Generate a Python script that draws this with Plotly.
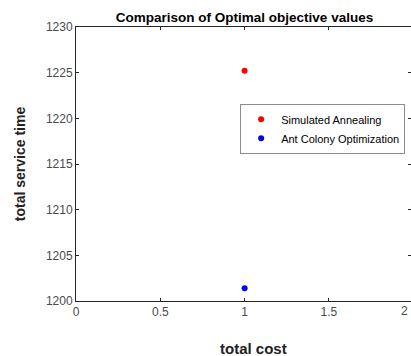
import plotly.graph_objects as go

# Data
series_names = ["Simulated Annealing", "Ant Colony Optimization"]
series_colors = ["#ff0000", "#0000ff"]
total_cost = [1, 1]
total_service_time = [1225.2, 1201.4]

x_tickvals = [0, 0.5, 1, 1.5, 2]
x_ticktext = ["0", "0.5", "1", "1.5", "2"]
y_tickvals = [1200, 1205, 1210, 1215, 1220, 1225, 1230]

X_MAX_VISIBLE = 1.987  # the right edge of the original is cropped
Y_RANGE = [1200, 1230]

FONT = "Liberation Sans, Arial, Helvetica, sans-serif"
AX = "#262626"
TICKC = "#4a4a4a"

fig = go.Figure()
for name, color, xv, yv in zip(series_names, series_colors, total_cost, total_service_time):
    fig.add_trace(go.Scatter(
        x=[xv], y=[yv], mode="markers", name=name,
        marker=dict(color=color, size=6, line=dict(width=0)),
    ))

# invisible trace on yaxis2 for right-side ticks
fig.add_trace(go.Scatter(x=[None], y=[None], yaxis="y2", showlegend=False, hoverinfo="skip"))

fig.update_layout(
    width=411, height=356,
    margin=dict(l=76, r=0, t=27, b=55),
    paper_bgcolor="white", plot_bgcolor="white",
    font=dict(family=FONT, color=TICKC, size=12),
    title=dict(
        text="<b>Comparison of Optimal objective values</b>",
        font=dict(family=FONT, size=13.5, color="black"),
        x=0.503, xref="paper", xanchor="center",
        y=1 - 17 / 356, yref="container", yanchor="middle",
    ),
    xaxis=dict(
        range=[0, X_MAX_VISIBLE], tickvals=x_tickvals, ticktext=x_ticktext,
        showgrid=False, zeroline=False,
        showline=True, linecolor=AX, linewidth=1, mirror="ticks",
        ticks="inside", ticklen=3, tickcolor=AX, tickwidth=1,
        tickfont=dict(family=FONT, size=12, color=TICKC),
    ),
    yaxis=dict(
        range=Y_RANGE, tickvals=y_tickvals,
        showgrid=False, zeroline=False,
        showline=True, linecolor=AX, linewidth=1,
        ticks="inside", ticklen=3, tickcolor=AX, tickwidth=1,
        tickfont=dict(family=FONT, size=12, color=TICKC),
        title=dict(text="<b>total service time</b>", font=dict(family=FONT, size=14, color="#222222"), standoff=16),
    ),
    yaxis2=dict(
        range=Y_RANGE, tickvals=y_tickvals, overlaying="y", side="right",
        showgrid=False, zeroline=False, showline=False, showticklabels=False,
        ticks="inside", ticklen=3, tickcolor=AX, tickwidth=1,
    ),
    legend=dict(
        x=0.49, y=0.72, xanchor="left", yanchor="top",
        bgcolor="white", bordercolor="#8c8c8c", borderwidth=1,
        font=dict(family=FONT, size=11, color="black"),
        tracegroupgap=0, itemwidth=30,
    ),
    showlegend=True,
)

# x-axis title (placed as in the original, slightly right of centre)
fig.add_annotation(
    x=0.531, xref="paper", y=-47 / 273.7, yref="paper", yanchor="middle",
    text="<b>total cost</b>", showarrow=False,
    font=dict(family=FONT, size=15, color="#222222"),
)

# "2" tick label at the right edge (kept just inside the visible area)
fig.add_annotation(
    x=1.0, xref="paper", y=0, yref="paper",
    xanchor="right", yanchor="top", yshift=-1, xshift=-1,
    text=x_ticktext[-1], showarrow=False,
    font=dict(family=FONT, size=12, color=TICKC),
)

fig.write_html("out.html")
